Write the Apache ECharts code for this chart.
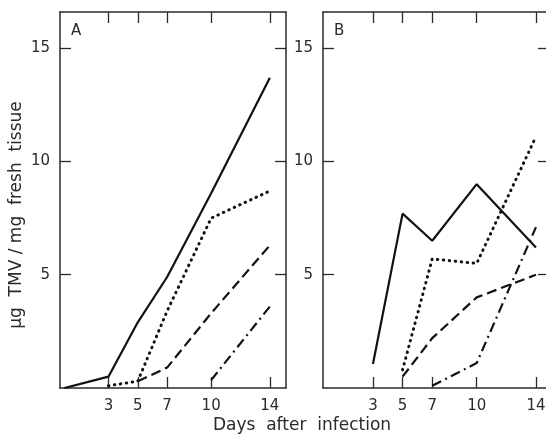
<!DOCTYPE html>
<html><head><meta charset="utf-8">
<script src="https://cdn.jsdelivr.net/npm/echarts@6/dist/echarts.min.js"></script>
<style>html,body{margin:0;padding:0;background:#fff}#c{width:546px;height:444px}</style>
</head><body><div id="c"></div>
<script>
const xTicks = [3, 5, 7, 10, 14];
const yTicks = [5, 10, 15];
const panelLabels = ['A', 'B'];
const xTitle = 'Days  after  infection';
const yTitle = 'µg  TMV / mg  fresh  tissue';

// Panel A
const aSolidDays = [0, 3, 5, 7, 10, 14];
const aSolidVals = [0, 0.5, 2.9, 4.9, 8.6, 13.7];
const aDotDays = [3, 5, 7, 10, 14];
const aDotVals = [0.1, 0.3, 3.4, 7.5, 8.7];
const aDashDays = [5, 7, 10, 14];
const aDashVals = [0.3, 0.9, 3.3, 6.3];
const aDashDotDays = [10, 14];
const aDashDotVals = [0.35, 3.6];

// Panel B
const bSolidDays = [3, 5, 7, 10, 14];
const bSolidVals = [1.06, 7.7, 6.5, 9.0, 6.2];
const bDotDays = [5, 7, 10, 14];
const bDotVals = [0.8, 5.7, 5.5, 11.1];
const bDashDays = [5, 7, 10, 14];
const bDashVals = [0.5, 2.2, 4.0, 5.0];
const bDashDotDays = [7, 10, 14];
const bDashDotVals = [0.1, 1.1, 7.1];

const zip = (d, v) => d.map((x, i) => [x, v[i]]);
const ink = '#2a2a2a';
const font = 'DejaVu Sans';
const styles = {
  solid: { type: 'solid', width: 2.2 },
  dot: { type: [0.5, 5.5], width: 3, cap: 'round' },
  dash: { type: [10, 5], width: 2.2 },
  dashdot: { type: [10, 4.5, 2, 4.5], width: 2.2 }
};

const chart = echarts.init(document.getElementById('c'), null, { renderer: 'canvas' });
const grids = [
  { left: 60, top: 12, width: 226, height: 376, outerBoundsMode: 'none' },
  { left: 323, top: 12, width: 226, height: 376, outerBoundsMode: 'none' }
];
const xRanges = [[-0.3, 15.1], [-0.37, 14.88]];
const xAxes = [], yAxes = [];
grids.forEach((g, gi) => {
  ['bottom', 'top'].forEach(pos => {
    xAxes.push({
      type: 'value', gridIndex: gi, position: pos, min: xRanges[gi][0], max: xRanges[gi][1],
      splitLine: { show: false },
      axisLine: { show: true, onZero: false, lineStyle: { color: ink, width: 1.5 } },
      axisTick: { show: true, inside: true, length: 11, customValues: xTicks, lineStyle: { color: ink, width: 1.3 } },
      axisLabel: { show: pos === 'bottom', customValues: xTicks, color: ink, fontFamily: font, fontSize: 15, margin: 11 }
    });
  });
  ['left', 'right'].forEach(pos => {
    yAxes.push({
      type: 'value', gridIndex: gi, position: pos, min: 0, max: 16.6,
      splitLine: { show: false },
      axisLine: { show: true, onZero: false, lineStyle: { color: ink, width: 1.5 } },
      axisTick: { show: true, inside: true, length: 11, customValues: yTicks, lineStyle: { color: ink, width: 1.3 } },
      axisLabel: { show: pos === 'left', customValues: yTicks, color: ink, fontFamily: font, fontSize: 15, margin: 10 }
    });
  });
});

function mk(d, v, st, gi) {
  return {
    type: 'line', data: zip(d, v), xAxisIndex: gi * 2, yAxisIndex: gi * 2,
    symbol: 'none', silent: true, animation: false,
    lineStyle: Object.assign({ color: '#111' }, styles[st])
  };
}

const series = [
  mk(aSolidDays, aSolidVals, 'solid', 0),
  mk(aDotDays, aDotVals, 'dot', 0),
  mk(aDashDays, aDashVals, 'dash', 0),
  mk(aDashDotDays, aDashDotVals, 'dashdot', 0),
  mk(bSolidDays, bSolidVals, 'solid', 1),
  mk(bDotDays, bDotVals, 'dot', 1),
  mk(bDashDays, bDashVals, 'dash', 1),
  mk(bDashDotDays, bDashDotVals, 'dashdot', 1)
];

chart.setOption({
  animation: false,
  grid: grids,
  xAxis: xAxes,
  yAxis: yAxes,
  series: series,
  graphic: [
    { type: 'text', left: 71, top: 24, style: { text: panelLabels[0], fill: ink, font: '15px "DejaVu Sans"' } },
    { type: 'text', left: 334, top: 24, style: { text: panelLabels[1], fill: ink, font: '15px "DejaVu Sans"' } },
    { type: 'text', x: 302, y: 426, style: { text: xTitle, fill: ink, font: '17px "DejaVu Sans"', textAlign: 'center', textVerticalAlign: 'middle' } },
    { type: 'text', x: 17, y: 215, rotation: Math.PI / 2, style: { text: yTitle, fill: ink, font: '17px "DejaVu Sans"', textAlign: 'center', textVerticalAlign: 'middle' } }
  ]
});
</script></body></html>
